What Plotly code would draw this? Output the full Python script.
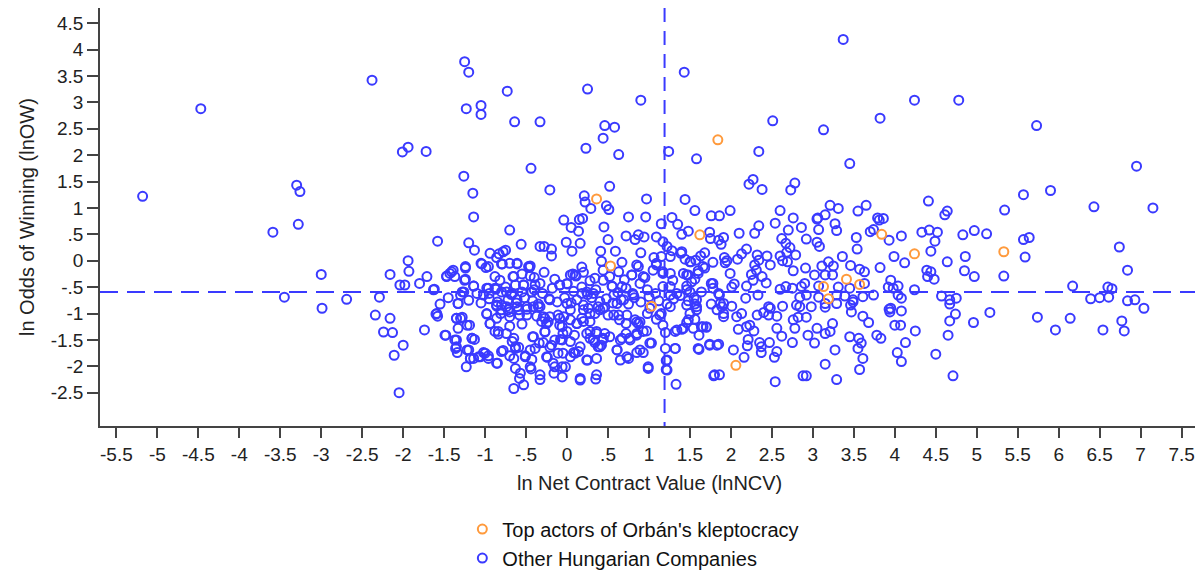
import plotly.graph_objects as go

# (lnNCV, lnOW) pairs
kleptocracy = [
    (0.36, 1.17), (1.84, 2.29), (1.62, 0.49), (0.53, -0.10), (1.03, -0.86),
    (2.06, -1.98), (3.84, 0.50), (4.24, 0.13), (5.33, 0.17), (3.41, -0.35),
    (3.57, -0.45), (3.13, -0.49), (3.19, -0.72),
]

other_companies = [
    # sparse left / top
    (-5.18, 1.22), (-4.47, 2.88), (-2.38, 3.42), (-3.30, 1.43), (-3.26, 1.31),
    (-2.01, 2.06), (-1.94, 2.15), (-1.72, 2.07),
    (-3.59, 0.54), (-3.28, 0.69), (-3.45, -0.69), (-3.00, -0.26), (-2.99, -0.90),
    (-2.69, -0.73), (-2.34, -1.03), (-2.29, -0.69), (-2.16, -0.26), (-2.16, -1.09),
    (-2.24, -1.35), (-2.13, -1.36), (-2.11, -1.79), (-2.00, -1.60), (-2.05, -2.50),
    (-2.04, -0.46),
    (-1.25, 3.77), (-1.20, 3.57), (-0.73, 3.21), (-1.23, 2.88), (-1.05, 2.94),
    (-1.05, 2.77), (-0.64, 2.63), (-0.33, 2.63), (0.25, 3.25), (0.90, 3.04),
    (1.43, 3.57), (0.46, 2.56), (0.58, 2.53), (0.44, 2.32), (0.23, 2.13),
    (0.63, 2.01), (1.24, 2.07), (1.58, 1.93), (-0.44, 1.75), (-1.26, 1.60),
    (-1.15, 1.28), (-0.21, 1.34), (0.52, 1.41), (0.21, 1.23), (0.22, 1.11),
    (0.29, 0.99), (0.48, 1.04), (0.51, 0.97), (0.97, 1.17), (1.44, 1.16),
    (1.56, 0.95), (-1.14, 0.83),
    # upper middle
    (-0.04, 0.77), (0.05, 0.63), (0.15, 0.78), (0.19, 0.80), (0.14, 0.56),
    (0.45, 0.64), (0.75, 0.83), (0.96, 0.83), (1.15, 0.70), (1.28, 0.82),
    (1.35, 0.69), (1.48, 0.56), (1.40, 0.50), (-0.70, 0.58), (-1.58, 0.37),
    (-1.20, 0.34), (-1.13, 0.20), (-0.56, 0.31), (-0.33, 0.27), (-0.28, 0.27),
    (-0.19, 0.22), (-0.19, 0.09), (-0.01, 0.35), (0.16, 0.33), (0.06, 0.18),
    (0.50, 0.40), (0.72, 0.47), (0.83, 0.40), (0.87, 0.49), (0.94, 0.45),
    (1.09, 0.45), (1.17, 0.36), (1.22, 0.27), (1.28, 0.19), (1.39, 0.14),
    (0.41, 0.18), (0.42, -0.01), (0.59, 0.18), (0.67, -0.03), (0.90, 0.15),
    (1.06, 0.06), (1.15, 0.08), (1.26, 0.08),
    (-0.75, 0.20), (-0.78, 0.17), (-0.83, 0.13), (-0.94, 0.14), (-0.86, 0.06),
    (-1.05, -0.05), (-0.99, -0.13), (-0.79, -0.06), (-0.70, -0.05), (-0.61, -0.05),
    (-0.46, -0.13), (-0.45, -0.10), (-0.55, -0.25), (-1.24, -0.14), (-1.94, 0.00),
    (-1.93, -0.20), (-1.98, -0.46), (-1.71, -0.30), (-1.80, -0.43), (-1.63, -0.55),
    (-1.47, -0.30), (-1.41, -0.21), (-1.37, -0.30), (-1.25, -0.37), (-1.14, -0.48),
    (-1.28, -0.59), (-0.65, -0.30), (-0.53, -0.46), (-0.98, -0.52), (-0.87, -0.54),
    (-0.74, -0.59), (-0.09, -0.46), (0.00, -0.44), (0.07, -0.25), (0.11, -0.29),
    (0.44, -0.18), (0.63, -0.21), (0.79, -0.27), (0.85, -0.08), (0.89, -0.43),
    (0.95, -0.32), (1.05, -0.18), (1.09, -0.05), (1.17, -0.21), (1.26, -0.24),
    (1.29, -0.37), (1.42, -0.24), (1.52, -0.40), (1.60, -0.24), (1.50, -0.02),
    (1.46, -0.55), (1.17, -0.49), (1.26, -0.65),
    # dense band around the horizontal mean
    (-1.05, -0.80), (-0.95, -0.72), (-0.85, -0.78), (-0.72, -0.74), (-0.62, -0.80),
    (-0.52, -0.70), (-0.42, -0.76), (-0.35, -0.82), (-0.22, -0.72), (-0.12, -0.78),
    (-0.03, -0.70), (0.05, -0.80), (0.12, -0.74), (0.20, -0.84), (0.30, -0.70),
    (0.40, -0.77), (0.48, -0.72), (0.56, -0.80), (0.66, -0.74), (0.75, -0.82),
    (0.82, -0.70), (0.90, -0.78), (1.00, -0.68), (1.12, -0.76), (1.22, -0.82),
    (1.30, -0.72), (1.38, -0.66), (1.55, -0.70),
    (-0.95, -0.62), (-0.75, -0.50), (-0.68, -0.64), (-0.40, -0.55), (-0.30, -0.62),
    (-0.18, -0.52), (0.08, -0.58), (0.18, -0.50), (0.25, -0.64), (0.35, -0.55),
    (0.55, -0.48), (0.62, -0.60), (0.72, -0.52), (0.80, -0.62), (0.98, -0.55),
    (1.08, -0.62), (-0.88, -0.30), (-0.40, -0.32), (-0.28, -0.22), (-0.15, -0.35),
    (0.20, -0.22), (0.28, -0.38), (0.52, -0.30), (0.70, -0.36), (0.18, -0.12),
    (-1.30, -0.65), (-1.20, -0.75), (-1.10, -0.62), (-1.45, -0.70), (-1.55, -0.82),
    # lower middle, left of the vertical mean
    (-1.74, -1.31), (-1.60, -1.01), (-1.58, -1.05), (-1.48, -1.41), (-1.35, -1.09),
    (-1.28, -1.07), (-1.33, -0.81), (-1.33, -1.28), (-1.19, -1.22), (-1.35, -1.50),
    (-1.36, -1.66), (-1.34, -1.74), (-1.20, -1.69), (-1.16, -1.47), (-1.13, -1.49),
    (-1.23, -2.01), (-1.18, -1.85), (-1.14, -1.85), (-1.08, -1.82), (-1.02, -1.74),
    (-0.96, -1.80), (-0.98, -1.01), (-0.94, -1.19), (-0.88, -1.34), (-0.85, -1.94),
    (-0.84, -1.39), (-0.78, -1.70), (-0.81, -1.00), (-0.70, -0.97), (-0.74, -1.38),
    (-0.70, -1.24), (-0.67, -1.53), (-0.70, -1.80), (-0.65, -1.85), (-0.63, -1.63),
    (-0.59, -1.64), (-0.63, -2.04), (-0.58, -2.23), (-0.65, -2.42), (-0.53, -2.35),
    (-0.58, -1.03), (-0.55, -1.20), (-0.51, -1.80), (-0.43, -1.87), (-0.44, -2.05),
    (-0.45, -1.69), (-0.42, -1.44), (-0.33, -2.25), (-0.34, -1.56), (-0.29, -1.55),
    (-0.24, -1.83), (-0.27, -1.35), (-0.21, -1.64), (-0.16, -2.13), (-0.06, -2.20),
    (-0.11, -1.75), (-0.15, -2.01), (-0.02, -2.01), (-0.08, -1.49), (-0.05, -1.38),
    (0.00, -1.34), (0.04, -1.53), (0.09, -1.41), (0.08, -1.74), (0.14, -1.72),
    (0.04, -1.82), (0.16, -2.26), (0.25, -1.88), (0.35, -2.24), (0.36, -1.85),
    (0.24, -1.38), (0.28, -1.47), (0.34, -1.55), (0.38, -1.63), (0.42, -1.60),
    (0.44, -1.49), (0.36, -1.34), (0.46, -1.38), (0.52, -1.44), (0.61, -1.69),
    (0.65, -1.88), (0.75, -1.85), (0.85, -1.74), (0.93, -1.74), (0.99, -2.04),
    (1.03, -1.56), (0.85, -1.41), (0.76, -1.47), (0.67, -1.47), (0.72, -1.38),
    (0.93, -1.34), (0.97, -1.33), (1.20, -1.36), (1.32, -1.34), (1.32, -1.66),
    (1.21, -1.89), (1.21, -2.06), (1.33, -2.34), (1.42, -1.28), (1.17, -1.22),
    (1.09, -1.11), (0.98, -1.00), (1.15, -1.00), (0.87, -1.19), (0.83, -1.12),
    (0.72, -1.19), (0.64, -1.12), (0.57, -1.03), (0.50, -1.03), (0.46, -0.88),
    (0.38, -0.87), (0.28, -1.00), (0.20, -1.15), (0.28, -1.15), (0.12, -1.19),
    (0.04, -1.12), (-0.04, -1.06), (-0.11, -1.03), (-0.09, -1.22), (-0.21, -1.06),
    (-0.27, -1.09), (-0.31, -1.15), (-0.25, -1.19), (-0.37, -1.05), (-0.41, -0.87),
    (-0.33, -0.87), (-0.49, -0.92), (-0.61, -0.87), (-0.74, -0.87), (-0.80, -0.84),
    (-0.86, -0.86), (-0.86, -1.09),
    # centre cluster, second pass
    (-1.43, -0.24), (-1.39, -0.18), (-1.47, -0.29), (-1.24, -0.11), (-1.24, -0.35),
    (-1.04, -0.06), (-0.96, -0.11), (-0.80, -0.06), (-0.66, -0.30), (-0.61, -0.06),
    (-0.47, -0.11), (-0.45, -0.29), (-0.53, -0.46), (-0.39, -0.46), (-1.62, -0.54),
    (-1.26, -0.59), (-1.14, -0.48), (-1.02, -0.65), (-0.96, -0.52), (-0.88, -0.52),
    (-0.82, -0.37), (-0.80, -0.59), (-0.67, -0.62), (-0.63, -0.46), (-0.55, -0.59),
    (-0.43, -0.59), (-0.33, -0.43), (-0.21, -0.74), (-0.09, -0.46), (0.00, -0.43),
    (0.04, -0.27), (0.10, -0.27), (0.18, -0.62), (0.24, -0.59), (0.32, -0.62),
    (0.34, -0.33), (0.44, -0.37), (0.55, -0.49), (0.57, -0.65), (0.67, -0.49),
    (0.69, -0.74), (0.79, -0.27), (0.81, -0.65), (0.87, -0.11), (0.93, -0.30),
    (1.09, -0.08), (1.17, -0.24), (1.26, -0.49), (1.34, -0.62), (1.46, -0.27),
    (1.50, -0.59), (1.58, -0.74), (1.66, -0.11), (1.78, -0.43), (1.85, -0.62),
    (1.91, -0.81), (1.93, -0.04),
    (-1.59, -1.00), (-1.33, -0.81), (-1.35, -1.09), (-1.30, -1.09), (-1.22, -1.22),
    (-0.98, -1.00), (-0.94, -1.19), (-0.86, -0.84), (-0.80, -0.93), (-0.72, -0.93),
    (-0.70, -1.06), (-0.61, -0.74), (-0.59, -0.93), (-0.49, -0.87), (-0.49, -1.03),
    (-0.35, -0.87), (-0.29, -1.06), (-0.23, -1.16), (-0.27, -1.34), (-0.09, -1.09),
    (-0.06, -1.25), (0.00, -0.81), (0.04, -0.93), (0.12, -1.19), (0.18, -1.09),
    (0.20, -0.93), (0.26, -0.90), (0.34, -1.00), (0.40, -0.93), (0.44, -0.90),
    (0.61, -0.81), (0.63, -1.03), (0.73, -1.03), (0.85, -1.16), (0.89, -1.16),
    (1.01, -0.90), (1.13, -1.03), (1.26, -0.87), (1.34, -1.31), (1.48, -1.12),
    (1.58, -0.93), (1.64, -1.25), (1.70, -1.25), (1.83, -0.93), (1.91, -1.06),
    (-1.49, -1.41), (-1.37, -1.50), (-1.35, -1.63), (-1.22, -1.69), (-1.16, -1.47),
    (-1.18, -1.85), (-1.06, -1.82), (-1.00, -1.75), (-0.96, -1.85), (-0.84, -1.34),
    (-0.80, -1.72), (-0.65, -1.47), (-0.63, -1.66), (-0.51, -1.82), (-0.41, -1.44),
    (-0.39, -1.66), (-0.25, -1.82), (-0.19, -1.60), (-0.15, -1.50), (-0.06, -1.50),
    (-0.05, -1.75), (0.10, -1.75), (0.16, -1.63), (0.24, -1.88), (0.28, -1.34),
    (0.32, -1.50), (0.36, -1.38), (0.40, -1.63), (0.44, -1.47), (0.61, -1.69),
    (0.65, -1.50), (0.73, -1.82), (0.77, -1.50), (0.85, -1.38), (0.89, -1.69),
    (1.01, -1.56), (1.20, -1.66), (1.32, -1.66), (1.60, -1.66), (1.74, -1.60),
    (1.83, -1.60),
    (-0.86, -1.94), (-0.57, -2.13), (-0.45, -2.01), (-0.33, -2.16), (-0.17, -1.94),
    (-0.06, -2.01), (0.16, -2.23), (0.36, -2.16), (0.99, -2.01), (1.22, -1.88),
    (1.22, -2.07), (1.80, -2.16),
    # right of the vertical mean, upper
    (3.37, 4.19), (4.24, 3.04), (4.78, 3.04), (3.82, 2.70), (2.51, 2.65),
    (3.13, 2.48), (2.34, 2.07), (3.45, 1.84), (2.27, 1.54), (2.22, 1.45),
    (2.38, 1.35), (2.78, 1.47), (2.73, 1.34), (1.76, 0.85), (1.86, 0.85),
    (1.99, 0.95), (2.60, 0.95), (2.76, 0.81), (3.21, 1.05), (3.31, 0.99),
    (3.55, 0.94), (3.65, 1.05), (3.06, 0.81), (3.15, 0.87), (3.79, 0.81),
    (3.86, 0.80), (4.41, 1.13), (4.64, 0.94), (4.61, 0.87),
    (1.74, 0.54), (1.75, 0.42), (1.85, 0.39), (1.91, 0.44), (1.88, 0.31),
    (2.10, 0.52), (2.29, 0.52), (2.34, 0.66), (2.54, 0.71), (2.70, 0.58),
    (2.86, 0.63), (2.92, 0.41), (3.05, 0.79), (3.07, 0.59), (3.05, 0.35),
    (3.08, 0.27), (3.27, 0.70), (3.29, 0.57), (3.53, 0.44), (3.54, 0.22),
    (3.70, 0.55), (3.74, 0.59), (3.81, 0.77), (3.93, 0.39), (4.08, 0.47),
    (3.99, 0.08), (4.12, -0.04), (4.33, 0.54), (4.42, 0.58), (4.52, 0.54),
    (4.49, 0.37), (4.44, 0.18), (4.83, 0.49), (4.97, 0.57), (4.86, 0.08),
    (4.64, -0.02), (4.85, -0.19), (4.97, -0.30), (4.39, -0.18), (4.44, -0.21),
    (4.48, -0.35), (4.40, -0.30), (3.82, -0.13), (3.95, -0.37), (3.98, -0.52),
    (4.04, -0.48), (4.08, -0.71), (4.24, -0.55), (4.57, -0.67), (4.67, -0.74),
    (4.75, -0.71), (3.36, 0.08), (3.46, -0.09), (3.57, -0.16), (3.63, -0.21),
    (3.63, -0.43), (3.45, -0.52), (3.31, -0.50), (3.29, -0.65), (3.61, -0.68),
    (3.74, -0.65), (3.19, -0.02), (3.11, -0.10), (3.25, -0.10), (3.02, -0.27),
    (3.15, -0.27), (3.24, -0.27), (3.07, -0.48), (2.91, -0.14), (2.76, -0.19),
    (2.69, -0.02), (2.79, 0.11), (2.68, 0.16), (2.72, 0.25), (2.67, 0.33),
    (2.62, 0.42), (2.60, 0.09), (2.63, 0.00), (2.44, 0.09), (2.48, -0.08),
    (2.32, 0.11), (2.34, 0.01), (2.29, -0.08), (2.19, 0.22), (2.13, 0.13),
    (2.08, 0.03), (2.31, -0.18), (2.25, -0.26), (2.38, -0.30), (2.43, -0.42),
    (2.27, -0.37), (2.19, -0.48), (2.04, -0.44), (1.99, -0.24), (1.92, 0.06),
    (1.95, 0.00), (1.78, -0.03), (1.68, 0.15), (1.63, 0.09), (1.57, 0.01),
    (1.51, -0.02), (1.68, -0.14), (1.60, -0.19), (1.48, -0.27), (1.56, -0.35),
    (1.40, 0.17), (1.44, 0.03), (1.76, -0.43), (1.78, -0.52), (1.46, -0.48),
    (1.64, -0.59), (1.86, -0.65), (2.01, -0.50), (2.18, -0.71), (2.33, -0.65),
    (2.46, -0.87), (2.60, -0.54), (2.67, -0.49), (2.75, -0.52), (2.86, -0.49),
    (2.90, -0.43), (2.84, -0.69), (2.92, -0.65), (3.07, -0.69), (3.39, -0.67),
    (3.49, -0.74), (3.92, -0.50), (4.04, -0.65), (1.87, -0.81), (2.01, -0.86),
    (1.76, -0.82), (1.56, -0.82), (1.48, -0.76), (2.63, -0.86), (2.80, -0.84),
    (2.98, -0.87), (3.15, -0.81), (3.29, -0.81), (3.46, -0.84), (3.95, -0.90),
    # right of the vertical mean, lower
    (1.46, -0.84), (1.50, -1.00), (1.58, -0.87), (1.46, -1.17), (1.56, -1.11),
    (1.54, -1.28), (1.61, -1.41), (1.66, -1.25), (1.70, -1.26), (1.40, -1.30),
    (1.61, -1.68), (1.74, -1.58), (1.85, -1.58), (1.89, -0.87), (1.91, -1.00),
    (2.07, -1.06), (2.13, -1.00), (2.09, -1.30), (2.19, -1.25), (2.23, -1.22),
    (2.28, -1.33), (2.21, -1.49), (2.20, -1.61), (2.03, -1.69), (2.16, -1.83),
    (1.79, -2.18), (1.86, -2.16), (2.32, -1.03), (2.40, -0.98), (2.48, -0.90),
    (2.46, -1.03), (2.56, -1.05), (2.56, -1.28), (2.62, -1.43), (2.35, -1.55),
    (2.37, -1.63), (2.37, -1.74), (2.47, -1.55), (2.56, -1.72), (2.53, -1.83),
    (2.54, -2.29), (2.75, -1.55), (2.76, -1.12), (2.82, -1.07), (2.78, -1.28),
    (2.92, -1.07), (2.94, -1.41), (2.84, -0.87), (3.02, -1.56), (3.05, -1.28),
    (3.15, -1.38), (3.21, -1.34), (3.24, -1.19), (3.15, -1.96), (2.88, -2.18),
    (2.92, -2.18), (3.15, -0.88), (3.29, -2.25), (3.27, -1.69), (3.47, -0.97),
    (3.49, -0.78), (3.45, -1.44), (3.56, -1.47), (3.59, -1.56), (3.55, -1.66),
    (3.61, -1.85), (3.57, -2.06), (3.61, -1.05), (3.68, -1.17), (3.78, -1.41),
    (3.83, -1.47), (3.93, -0.92), (3.94, -0.97), (4.08, -0.95), (4.00, -1.22),
    (4.07, -1.22), (4.13, -1.55), (4.03, -1.74), (4.08, -1.91), (4.25, -1.33),
    (4.50, -1.77), (4.65, -1.41), (4.67, -1.14), (4.74, -1.01), (4.67, -0.82),
    (4.71, -2.18), (4.96, -1.17),
    # far right
    (5.73, 2.56), (6.95, 1.79), (5.90, 1.33), (5.57, 1.25), (5.34, 0.96),
    (6.43, 1.02), (7.15, 1.00), (5.12, 0.51), (5.57, 0.40), (5.64, 0.44),
    (5.59, 0.07), (5.33, -0.29), (6.74, 0.26), (6.84, -0.18), (6.17, -0.48),
    (6.60, -0.50), (6.65, -0.53), (6.39, -0.72), (6.50, -0.70), (6.61, -0.69),
    (6.84, -0.76), (6.93, -0.74), (7.04, -0.90), (6.77, -1.14), (6.80, -1.33),
    (6.54, -1.31), (6.14, -1.09), (5.96, -1.31), (5.74, -1.07), (5.16, -0.98),
]

mean_lnncv = 1.19
mean_lnow = -0.59

x_ticks = [v / 2 for v in range(-11, 16)]
y_ticks = [v / 2 for v in range(-5, 10)]


def tick_label(v):
    if v == 0:
        return "0"
    s = ("%g" % v)
    return s.replace("0.", ".")


BLUE = "#3a3aff"
ORANGE = "#ff9a3c"
FONT = "Liberation Sans, Arial, sans-serif"

fig = go.Figure()

fig.add_trace(go.Scatter(
    x=[p[0] for p in other_companies],
    y=[p[1] for p in other_companies],
    mode="markers",
    name="Other Hungarian Companies",
    marker=dict(symbol="circle-open", size=9, color=BLUE, line=dict(width=2)),
))
fig.add_trace(go.Scatter(
    x=[p[0] for p in kleptocracy],
    y=[p[1] for p in kleptocracy],
    mode="markers",
    name="Top actors of Orbán's kleptocracy",
    marker=dict(symbol="circle-open", size=9, color=ORANGE, line=dict(width=2)),
))

fig.add_shape(type="line", xref="x", yref="paper", x0=mean_lnncv, x1=mean_lnncv,
              y0=1, y1=0, line=dict(color=BLUE, width=2, dash="14px,9px"))
fig.add_shape(type="line", xref="paper", yref="y", x0=0, x1=1,
              y0=mean_lnow, y1=mean_lnow, line=dict(color=BLUE, width=2, dash="18px,9px"))

# axis titles as annotations so they sit exactly where the reference has them
fig.add_annotation(
    text="ln Odds of Winning (lnOW)", textangle=-90,
    xref="paper", yref="paper", x=0, y=0.5, xanchor="center", yanchor="middle",
    xshift=-73, showarrow=False, font=dict(size=20, family=FONT, color="#222"),
)
fig.add_annotation(
    text="ln Net Contract Value (lnNCV)",
    xref="paper", yref="paper", x=0.5, y=0, xanchor="center", yanchor="middle",
    yshift=-57, showarrow=False, font=dict(size=20, family=FONT, color="#222"),
)

# the page body adds an 8px offset, so margins are set to compensate
fig.update_layout(
    width=1203,
    height=575,
    paper_bgcolor="white",
    plot_bgcolor="white",
    template="plotly_white",
    margin=dict(l=92, r=13, t=0, b=157),
    font=dict(family=FONT, color="#222", size=19),
    showlegend=True,
    legend=dict(
        x=0.330, y=-0.20, xanchor="left", yanchor="top",
        traceorder="reversed",
        font=dict(size=20, family=FONT, color="#111"),
        bgcolor="rgba(0,0,0,0)",
    ),
)

fig.update_xaxes(
    range=[-5.70, 7.70],
    automargin=False,
    tickvals=x_ticks,
    ticktext=[tick_label(v) for v in x_ticks],
    ticks="outside", ticklen=10, tickwidth=1.5, tickcolor="#444",
    showline=True, linecolor="#444", linewidth=1.5,
    showgrid=False, zeroline=False,
)

fig.update_yaxes(
    range=[-3.13, 4.786],
    automargin=False,
    tickvals=y_ticks,
    ticktext=[tick_label(v) for v in y_ticks],
    ticks="outside", ticklen=11, tickwidth=1.5, tickcolor="#444",
    showline=True, linecolor="#444", linewidth=1.5,
    showgrid=False, zeroline=False,
)

fig.write_html("out.html")
